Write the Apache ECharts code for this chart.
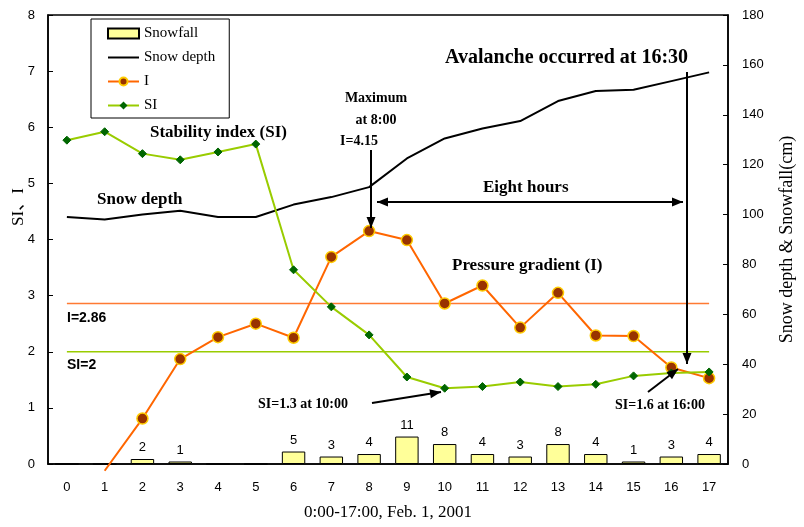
<!DOCTYPE html>
<html>
<head>
<meta charset="utf-8">
<script src="https://cdn.jsdelivr.net/npm/echarts@6/dist/echarts.min.js"></script>
<style>
  html, body { margin: 0; padding: 0; background: #fff; }
  #main { width: 804px; height: 527px; }
</style>
</head>
<body>
<div id="main"></div>
<script>
// hours 0:00 - 17:00
var hours = ['0','1','2','3','4','5','6','7','8','9','10','11','12','13','14','15','16','17'];
// snowfall per hour (cm)
var snowfall = [0, 0, 2, 1, 0, 0, 5, 3, 4, 11, 8, 4, 3, 8, 4, 1, 3, 4];
// snow depth (cm)
var snowDepth = [99, 98, 100, 101.5, 99, 99, 104, 107, 111, 122.5, 130.5, 134.5, 137.5, 145.5, 149.5, 150, 153.5, 157];
// pressure gradient I
var pressureI = [null, -0.12, 0.81, 1.87, 2.26, 2.50, 2.25, 3.69, 4.15, 3.99, 2.86, 3.18, 2.43, 3.05, 2.29, 2.28, 1.72, 1.53];
// stability index SI
var stabilitySI = [5.77, 5.92, 5.53, 5.42, 5.56, 5.70, 3.46, 2.80, 2.30, 1.55, 1.35, 1.38, 1.46, 1.38, 1.42, 1.57, 1.62, 1.64];
// threshold lines
var thresholdI = 2.86;
var thresholdSI = 2;

var serif = "'Liberation Serif', 'Times New Roman', serif";
var sans = "'Liberation Sans', Arial, sans-serif";

// arrow helper (line + triangle heads)
function arrow (x1, y1, x2, y2, both) {
  var els = [{
    type: 'line',
    shape: { x1: x1, y1: y1, x2: x2, y2: y2 },
    style: { stroke: '#000', lineWidth: 2 },
    z: 100
  }];
  function head (tx, ty, fx, fy) {
    var a = Math.atan2(ty - fy, tx - fx);
    var len = 11, w = 4.5;
    var bx = tx - len * Math.cos(a), by = ty - len * Math.sin(a);
    var px = -Math.sin(a) * w, py = Math.cos(a) * w;
    return {
      type: 'polygon',
      shape: { points: [[tx, ty], [bx + px, by + py], [bx - px, by - py]] },
      style: { fill: '#000' },
      z: 101
    };
  }
  els.push(head(x2, y2, x1, y1));
  if (both) {
    els.push(head(x1, y1, x2, y2));
  }
  return els;
}

function label (text, x, y, size, opts) {
  opts = opts || {};
  return {
    type: 'text',
    x: x, y: y,
    rotation: opts.rotation || 0,
    z: 100,
    style: {
      text: text,
      font: (opts.weight || 'bold') + ' ' + size + 'px ' + (opts.family || serif),
      fill: '#000',
      align: opts.align || 'left',
      verticalAlign: 'middle'
    }
  };
}

var graphics = [
  label('SI、I', 19, 207, 17, { weight: 'normal', rotation: Math.PI / 2, align: 'center', family: serif + ", 'Noto Sans CJK JP'" }),
  label('Avalanche occurred at 16:30', 445, 58, 20),
  label('Stability index (SI)', 150, 133, 17),
  label('Snow depth', 97, 200, 17),
  label('Eight hours', 483, 188, 17),
  label('Pressure gradient (I)', 452, 266, 17),
  label('Maximum', 376, 98, 14, { align: 'center' }),
  label('at 8:00', 376, 120, 14, { align: 'center' }),
  label('I=4.15', 340, 141, 14),
  label('SI=1.3 at 10:00', 258, 404, 14),
  label('SI=1.6 at 16:00', 615, 405, 14),
  label('I=2.86', 67, 318, 14, { family: sans }),
  label('SI=2', 67, 365, 14, { family: sans })
]
.concat(arrow(371, 150, 371, 228))
.concat(arrow(377, 202, 683, 202, true))
.concat(arrow(687, 72, 687, 364))
.concat(arrow(372, 403, 441, 392))
.concat(arrow(648, 392, 678, 369));

// horizontal reference line from first to last hour
function refLine (name, value, color) {
  return {
    name: name,
    type: 'line',
    yAxisIndex: 0,
    data: [[0, value], [hours.length - 1, value]],
    symbol: 'none',
    silent: true,
    lineStyle: { color: color, width: 1.5 },
    itemStyle: { color: color },
    z: 1
  };
}

var myChart = echarts.init(document.getElementById('main'));

var option = {
  animation: false,
  backgroundColor: '#fff',
  grid: {
    left: 48, right: 71, top: 15, bottom: 63,
    show: true, borderColor: '#000', borderWidth: 1.5,
    containLabel: false
  },
  legend: {
    left: 91, top: 19,
    orient: 'vertical',
    data: [
      { name: 'Snowfall', icon: 'rect' },
      { name: 'Snow depth', itemStyle: { opacity: 0 } },
      'I',
      'SI'
    ],
    itemWidth: 31, itemHeight: 10, itemGap: 9,
    padding: [7, 14, 5, 16],
    borderColor: '#000', borderWidth: 1,
    backgroundColor: '#fff',
    textStyle: { fontFamily: serif, fontSize: 15, color: '#000' }
  },
  xAxis: {
    type: 'category',
    data: hours,
    boundaryGap: true,
    name: '0:00-17:00, Feb. 1, 2001',
    nameLocation: 'middle',
    nameGap: 40,
    nameTextStyle: { fontFamily: serif, fontSize: 17, color: '#000' },
    axisLine: { lineStyle: { color: '#000', width: 1.5 } },
    axisTick: { inside: true, length: 4, lineStyle: { color: '#000' } },
    axisLabel: { margin: 17, fontFamily: sans, fontSize: 13, color: '#000' },
    splitLine: { show: false }
  },
  yAxis: [{
    type: 'value',
    min: 0, max: 8, interval: 1,
    axisLine: { show: true, lineStyle: { color: '#000', width: 1.5 } },
    axisTick: { show: true, inside: true, length: 5, lineStyle: { color: '#000' } },
    axisLabel: { margin: 13, fontFamily: sans, fontSize: 13, color: '#000' },
    splitLine: { show: false }
  }, {
    type: 'value',
    min: 0, max: 180, interval: 20,
    name: 'Snow depth & Snowfall(cm)',
    nameLocation: 'middle',
    nameGap: 50,
    nameTextStyle: { fontFamily: serif, fontSize: 18, color: '#000' },
    axisLine: { show: true, lineStyle: { color: '#000', width: 1.5 } },
    axisTick: { show: true, inside: true, length: 5, lineStyle: { color: '#000' } },
    axisLabel: { margin: 14, fontFamily: sans, fontSize: 13, color: '#000' },
    splitLine: { show: false }
  }],
  series: [
    refLine('I threshold', thresholdI, '#FF7A33'),
    refLine('SI threshold', thresholdSI, '#99CC00'),
  {
    name: 'Snowfall',
    type: 'bar',
    yAxisIndex: 1,
    data: snowfall,
    barWidth: '62%',
    itemStyle: { color: '#FFFF99', borderColor: '#000', borderWidth: 1 },
    label: {
      show: true, position: 'top', distance: 5,
      fontFamily: sans, fontSize: 13, color: '#000',
      formatter: function (p) { return p.value ? String(p.value) : ''; }
    },
    z: 1
  }, {
    name: 'Snow depth',
    type: 'line',
    yAxisIndex: 1,
    data: snowDepth,
    symbol: 'none',
    lineStyle: { color: '#000', width: 2 },
    itemStyle: { color: '#000' },
    z: 2
  }, {
    name: 'I',
    type: 'line',
    yAxisIndex: 0,
    data: pressureI.map(function (v, i) {
      return i === 1 ? { value: v, symbol: 'none' } : v;
    }),
    clip: false,
    symbol: 'circle',
    symbolSize: 11,
    lineStyle: { color: '#FF6600', width: 2 },
    itemStyle: { color: '#993300', borderColor: '#FFCC00', borderWidth: 1.5 },
    z: 3
  }, {
    name: 'SI',
    type: 'line',
    yAxisIndex: 0,
    data: stabilitySI,
    symbol: 'diamond',
    symbolSize: 8,
    lineStyle: { color: '#99CC00', width: 2 },
    itemStyle: { color: '#006600', borderColor: '#006600' },
    z: 4
  }],
  graphic: graphics
};

myChart.setOption(option);
</script>
</body>
</html>
